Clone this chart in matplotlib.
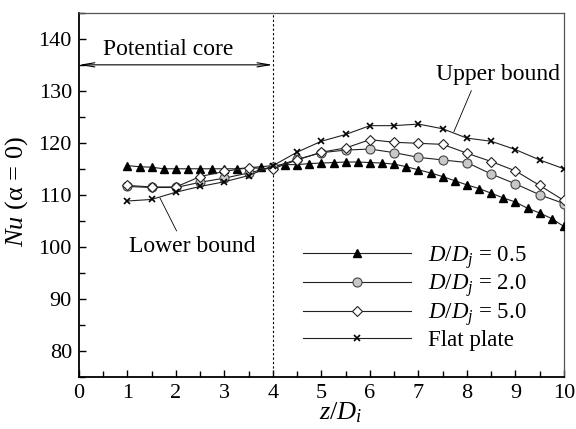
import numpy as np
import matplotlib
matplotlib.use('Agg')
import matplotlib.pyplot as plt
from matplotlib.ticker import MultipleLocator

plt.rcParams['font.family'] = ['Liberation Serif', 'DejaVu Serif']
plt.rcParams['mathtext.fontset'] = 'custom'
plt.rcParams['mathtext.rm'] = 'Liberation Serif'
plt.rcParams['mathtext.it'] = 'Liberation Serif:italic'

# D/Dj = 0.5, sampled every 0.25
z_fine = [1.0, 1.25, 1.5, 1.75, 2.0, 2.25, 2.5, 2.75, 3.0, 3.25, 3.5, 3.75,
          4.0, 4.25, 4.5, 4.75, 5.0, 5.25, 5.5, 5.75, 6.0, 6.25, 6.5, 6.75,
          7.0, 7.25, 7.5, 7.75, 8.0, 8.25, 8.5, 8.75, 9.0, 9.25, 9.5, 9.75, 10.0]
nu_05 = [115.6, 115.4, 115.3, 115.0, 115.0, 115.0, 115.0, 115.0, 115.0, 115.0,
         115.2, 115.4, 115.6, 115.8, 115.8, 116.0, 116.1, 116.2, 116.3, 116.3,
         116.2, 116.1, 115.9, 115.4, 114.8, 114.2, 113.5, 112.7, 111.9, 111.2,
         110.3, 109.4, 108.6, 107.4, 106.5, 105.4, 103.9]

# other cases, sampled every 0.5
z = [1.0, 1.5, 2.0, 2.5, 3.0, 3.5, 4.0, 4.5, 5.0, 5.5, 6.0, 6.5, 7.0, 7.5,
     8.0, 8.5, 9.0, 9.5, 10.0]
nu_20 = [111.6, 111.4, 111.4, 112.4, 113.2, 114.2, 115.3, 116.8, 118.1, 118.6,
         118.8, 118.1, 117.2, 116.7, 116.2, 114.0, 112.1, 110.0, 108.3]
nu_50 = [111.8, 111.5, 111.5, 113.5, 114.5, 115.2, 115.0, 116.7, 118.2, 119.0,
         120.6, 120.1, 119.9, 119.7, 118.0, 116.4, 114.6, 111.8, 108.9]
nu_flat = [108.8, 109.1, 110.5, 111.6, 112.5, 113.7, 115.6, 118.2, 120.3, 121.6,
           123.3, 123.3, 123.6, 122.7, 120.9, 120.3, 118.7, 116.7, 115.0]

labels = [r'$D/D_j$ = 0.5', r'$D/D_j$ = 2.0', r'$D/D_j$ = 5.0', 'Flat plate']

fig = plt.figure(figsize=(5.76, 4.29), dpi=100)
ax = fig.add_axes([0.137, 0.122, 0.842, 0.848])

lc = '#222222'
ax.plot(z_fine, nu_05, '-', color=lc, lw=0.8, marker='^', ms=5.5,
        mfc='black', mec='black', label=labels[0], zorder=3)
ax.plot(z, nu_20, '-', color=lc, lw=0.8, marker='o', ms=6.5,
        mfc='#c8c8c8', mec='#444444', mew=0.8, label=labels[1], zorder=3)
ax.plot(z, nu_50, '-', color=lc, lw=0.8, marker='D', ms=5.5,
        mfc='white', mec='#222222', mew=0.8, label=labels[2], zorder=4)
ax.plot(z, nu_flat, '-', color=lc, lw=0.8, marker='x', ms=5,
        mec='black', mew=1.2, label=labels[3], zorder=5)

ax.axvline(4, color='black', ls=(0, (2, 2)), lw=0.8)

ax.set_xlim(0, 10)
ax.set_ylim(75, 145)
ax.xaxis.set_major_locator(MultipleLocator(1))
ax.xaxis.set_minor_locator(MultipleLocator(0.5))
ax.yaxis.set_minor_locator(MultipleLocator(5))
ax.set_yticks([80, 90, 100, 110, 120, 130, 140])
ax.tick_params(which='both', direction='in', top=False, right=False,
               labelsize=16, pad=5)
ax.tick_params(which='major', length=5, width=1)
ax.tick_params(which='minor', length=4, width=1)
for s in ['left', 'bottom']:
    ax.spines[s].set_linewidth(1.3)
for s in ['top', 'right']:
    ax.spines[s].set_linewidth(0.9)
    ax.spines[s].set_color('#555555')

ax.set_xlabel(r'$z/D_i$', fontsize=19, labelpad=0)
ax.xaxis.set_label_coords(0.54, -0.065)
ax.set_ylabel(r'$Nu$ (α = 0)', fontsize=19, labelpad=0)
ax.yaxis.set_label_coords(-0.1, 0.51)

# potential core arrow
ax.annotate('', xy=(0, 135), xytext=(4, 135),
            arrowprops=dict(arrowstyle='<->,head_length=0.9,head_width=0.15',
                            lw=0.8, color='black', shrinkA=0, shrinkB=0))
ax.text(1.85, 138.0, 'Potential core', fontsize=17, ha='center', va='center')

ax.annotate('Upper bound', xy=(7.73, 122.1), xytext=(8.65, 133.1),
            fontsize=17, ha='center', va='center',
            arrowprops=dict(arrowstyle='-', lw=0.6, color='black',
                            relpos=(0.3, 0), shrinkA=2, shrinkB=0))
ax.annotate('Lower bound', xy=(1.67, 109.4), xytext=(2.33, 100.0),
            fontsize=17, ha='center', va='center',
            arrowprops=dict(arrowstyle='-', lw=0.6, color='black',
                            relpos=(0.4, 1), shrinkA=2, shrinkB=0))

ax.legend(loc='upper left', bbox_to_anchor=(0.462, 0.365), frameon=False,
          fontsize=16.5, handlelength=4.7, handletextpad=0.75, labelspacing=0.08,
          borderpad=0, borderaxespad=0)

fig.savefig('out.png', dpi=100)
